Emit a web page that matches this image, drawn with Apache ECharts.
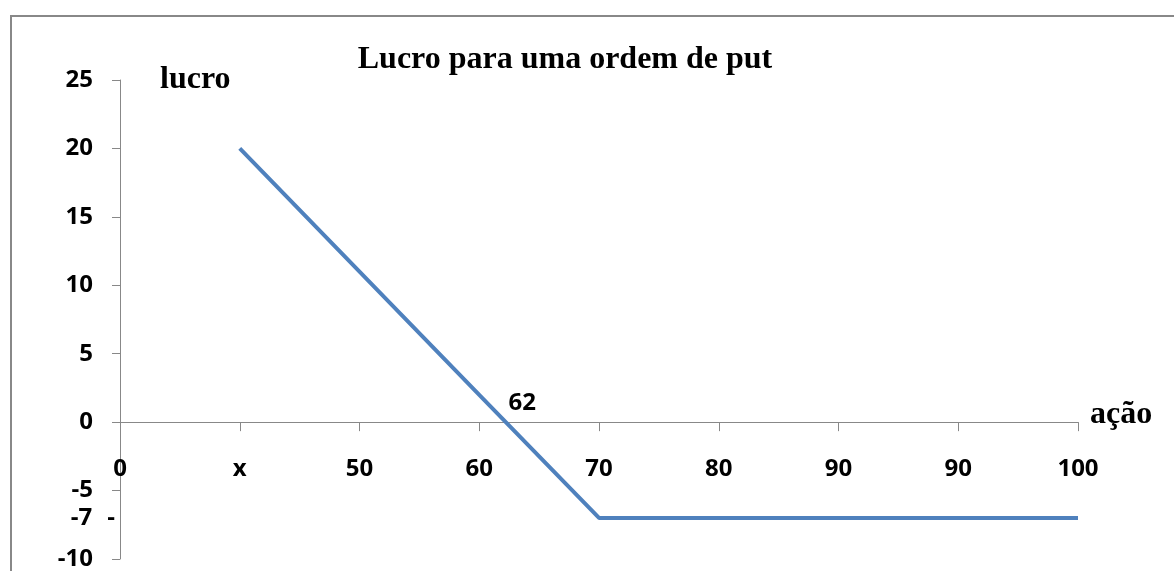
<!DOCTYPE html>
<html>
<head>
<meta charset="utf-8">
<script src="https://cdn.jsdelivr.net/npm/echarts@6/dist/echarts.min.js"></script>
<style>
html,body{margin:0;padding:0;background:#fff;}
#chart{width:1174px;height:571px;}
</style>
</head>
<body>
<div id="chart"></div>
<script>
// ---- data ----
const titleText = 'Lucro para uma ordem de put';
const xName = 'ação';
const yName = 'lucro';
const categories = ['0', 'x', '50', '60', '70', '80', '90', '90', '100'];
const profit = [null, 20, 11, 2, -7, -7, -7, -7, -7];
const yTickValues = [25, 20, 15, 10, 5, 0, -5, -10];
const yExtraLabel = [-7];
const crossLabel = '62';
const crossAnchor = '60'; // the 62 annotation sits just right of the 60 category
const yMin = -10, yMax = 25, yStep = 5;

const labelFont = { fontFamily: 'Open Sans', fontWeight: 'bold', fontSize: 24, color: '#000' };
const serifBold = { fontFamily: 'Liberation Serif', fontWeight: 'bold', fontSize: 32, color: '#000' };

const chart = echarts.init(document.getElementById('chart'), null, { renderer: 'canvas' });
chart.setOption({
  backgroundColor: '#fff',
  animation: false,
  title: {
    text: titleText,
    left: 560,
    textAlign: 'center',
    top: 39,
    textStyle: serifBold
  },
  graphic: [{
    type: 'polyline',
    shape: { points: [[11, 571], [11, 16], [1174, 16]] },
    style: { stroke: '#888', lineWidth: 2, fill: null },
    silent: true
  }],
  grid: { left: 120, right: 96, top: 80, bottom: 12, containLabel: false, outerBoundsMode: 'none' },
  xAxis: {
    type: 'category',
    data: categories,
    boundaryGap: false,
    name: xName,
    nameLocation: 'end',
    nameGap: 12,
    nameTextStyle: Object.assign({}, serifBold, { align: 'left', verticalAlign: 'bottom', lineHeight: 14 }),
    axisLine: { onZero: true, lineStyle: { color: '#888', width: 1 } },
    axisTick: { show: true, length: 9, inside: false, alignWithLabel: true, lineStyle: { color: '#888' } },
    axisLabel: Object.assign({ margin: -102, interval: 0, showMinLabel: true, showMaxLabel: true }, labelFont),
    splitLine: { show: false }
  },
  yAxis: [{
    type: 'value',
    min: yMin,
    max: yMax,
    interval: yStep,
    name: yName,
    nameLocation: 'end',
    nameGap: 0,
    nameTextStyle: Object.assign({}, serifBold, { align: 'left', verticalAlign: 'middle', padding: [0, 0, 0, 40] }),
    axisLine: { show: true, onZero: false, lineStyle: { color: '#888', width: 1 } },
    axisTick: { show: true, length: 8, customValues: yTickValues, lineStyle: { color: '#888' } },
    axisLabel: Object.assign({ margin: 27, customValues: yTickValues }, labelFont),
    splitLine: { show: false }
  }, {
    type: 'value',
    position: 'left',
    min: yMin,
    max: yMax,
    interval: yStep,
    axisLine: { show: false },
    axisTick: { show: false },
    splitLine: { show: false },
    axisLabel: {
      margin: 5,
      customValues: yExtraLabel,
      formatter: function (v) { return '{a|' + v + '}{b|-}'; },
      rich: {
        a: Object.assign({}, labelFont),
        b: Object.assign({}, labelFont, { padding: [0, 0, 0, 15] })
      }
    }
  }],
  series: [{
    type: 'line',
    data: profit,
    yAxisIndex: 0,
    symbol: 'none',
    connectNulls: false,
    lineStyle: { color: '#4F81BD', width: 4 },
    itemStyle: { color: '#4F81BD' },
    markPoint: {
      symbol: 'circle',
      symbolSize: 0,
      silent: true,
      data: [{
        coord: [crossAnchor, 0],
        label: Object.assign({ show: true, formatter: crossLabel, position: 'inside', offset: [43, -19] }, labelFont)
      }]
    }
  }]
});
</script>
</body>
</html>
